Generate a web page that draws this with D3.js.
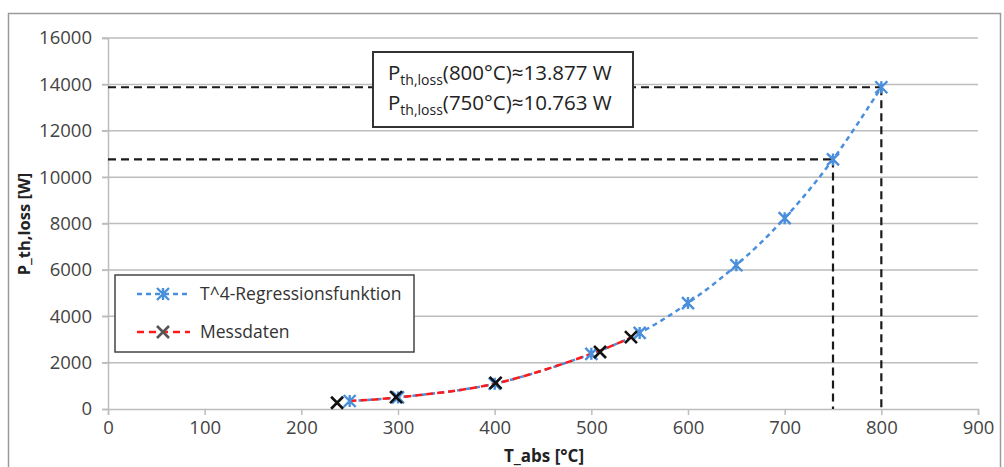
<!DOCTYPE html>
<html>
<head>
<meta charset="utf-8">
<script src="https://d3js.org/d3.v7.min.js"></script>
<style>
  body { margin: 0; background: #fff; }
  svg { font-family: "Open Sans", sans-serif; }
</style>
</head>
<body>
<svg id="chart" width="1004" height="467"></svg>
<script>
// T^4 regression (blue)
var regT = [250, 300, 400, 500, 550, 600, 650, 700, 750, 800];
var regP = [345, 500, 1090, 2380, 3280, 4570, 6200, 8230, 10763, 13877];
// measured data (black x)
var messT = [237, 298, 401, 509, 541];
var messP = [270, 510, 1130, 2460, 3100];
// red dashed line of the measured series
var messLineT = [250, 300, 400, 500, 541];
var messLineP = [345, 500, 1090, 2380, 3080];
// guides
var markT = [750, 800];
var markP = [10763, 13877];
var xTicks = [0, 100, 200, 300, 400, 500, 600, 700, 800, 900];
var yTicks = [0, 2000, 4000, 6000, 8000, 10000, 12000, 14000, 16000];
var legendLabels = ["T^4-Regressionsfunktion", "Messdaten"];

var svg = d3.select("#chart");
var x = d3.scaleLinear().domain([0, 900]).range([108, 978]);
var y = d3.scaleLinear().domain([0, 16000]).range([409, 38]);

// outer frame
svg.append("rect").attr("x", 8.5).attr("y", 13.5).attr("width", 992).attr("height", 460)
  .attr("fill", "none").attr("stroke", "#9a9a9a").attr("stroke-width", 1.5);

// gridlines
svg.append("g").selectAll("line").data(yTicks.slice(1)).enter().append("line")
  .attr("x1", x(0) - 6).attr("x2", x(900))
  .attr("y1", function(d) { return y(d); }).attr("y2", function(d) { return y(d); })
  .attr("stroke", "#bdbdbd").attr("stroke-width", 1.5);

// axes
var yAxis = svg.append("g").attr("transform", "translate(" + x(0) + ",0)")
  .call(d3.axisLeft(y).tickValues(yTicks).tickSize(6).tickPadding(10).tickFormat(d3.format("d")));
var xAxis = svg.append("g").attr("transform", "translate(0," + y(0) + ")")
  .call(d3.axisBottom(x).tickValues(xTicks).tickSize(6).tickPadding(6).tickFormat(d3.format("d")));
[xAxis, yAxis].forEach(function(a) {
  a.select(".domain").attr("stroke", "#bdbdbd").attr("stroke-width", 1.5);
  a.selectAll(".tick line").attr("stroke", "#bdbdbd").attr("stroke-width", 1.5);
  a.selectAll("text").attr("fill", "#444").style("font-size", "18.5px")
    .style("font-family", "'Open Sans', sans-serif");
});

// axis titles
svg.append("text").attr("x", 544).attr("y", 462).attr("text-anchor", "middle")
  .style("font-size", "17px").style("font-weight", "bold").attr("fill", "#222").text("T_abs [°C]");
svg.append("text").attr("transform", "translate(30,224) rotate(-90)").attr("text-anchor", "middle")
  .style("font-size", "16.5px").style("font-weight", "bold").attr("fill", "#222").text("P_th,loss [W]");

// guide lines
var guides = svg.append("g").attr("stroke", "#1a1a1a").attr("stroke-width", 2.2).attr("stroke-dasharray", "8,5");
markT.forEach(function(t, i) {
  guides.append("line").attr("x1", x(0)).attr("x2", x(t)).attr("y1", y(markP[i])).attr("y2", y(markP[i]));
  guides.append("line").attr("x1", x(t)).attr("x2", x(t)).attr("y1", y(markP[i])).attr("y2", y(0));
});

// curves
var line = d3.line().x(function(d) { return x(d[0]); }).y(function(d) { return y(d[1]); })
  .curve(d3.curveCatmullRom);
var regData = regT.map(function(t, i) { return [t, regP[i]]; });
var messLine = messLineT.map(function(t, i) { return [t, messLineP[i]]; });
var messData = messT.map(function(t, i) { return [t, messP[i]]; });
var blue = "#4a8fdc";

svg.append("path").datum(regData).attr("d", line).attr("fill", "none")
  .attr("stroke", blue).attr("stroke-width", 2.5).attr("stroke-dasharray", "5,4");
svg.append("path").datum(messLine).attr("d", line).attr("fill", "none")
  .attr("stroke", "#ff1a1a").attr("stroke-width", 2.5).attr("stroke-dasharray", "7,4");

function star(g, cx, cy, s, color) {
  var p = "M" + (cx - s) + "," + (cy - s) + "L" + (cx + s) + "," + (cy + s) +
    "M" + (cx - s) + "," + (cy + s) + "L" + (cx + s) + "," + (cy - s) +
    "M" + cx + "," + (cy - s) + "L" + cx + "," + (cy + s);
  g.append("path").attr("d", p).attr("stroke", color).attr("stroke-width", 2.4).attr("fill", "none");
}
function cross(g, cx, cy, s, color) {
  var p = "M" + (cx - s) + "," + (cy - s) + "L" + (cx + s) + "," + (cy + s) +
    "M" + (cx - s) + "," + (cy + s) + "L" + (cx + s) + "," + (cy - s);
  g.append("path").attr("d", p).attr("stroke", color).attr("stroke-width", 2.6).attr("fill", "none");
}
var marks = svg.append("g");
regData.forEach(function(d) { star(marks, x(d[0]), y(d[1]), 6, blue); });
messData.forEach(function(d) { cross(marks, x(d[0]), y(d[1]), 6, "#111"); });

// annotation box
var box = svg.append("g");
box.append("rect").attr("x", 373).attr("y", 52).attr("width", 260).attr("height", 75)
  .attr("fill", "#fff").attr("stroke", "#333").attr("stroke-width", 2);
var ann = [["800", "13.877"], ["750", "10.763"]];
ann.forEach(function(a, i) {
  var t = box.append("text").attr("x", 388).attr("y", 80 + i * 30).attr("fill", "#222")
    .style("font-size", "20.5px");
  t.append("tspan").text("P");
  t.append("tspan").attr("dy", 5).style("font-size", "14px").text("th,loss");
  t.append("tspan").attr("dy", -5).text("(" + a[0] + "°C)≈" + a[1] + " W");
});

// legend
var leg = svg.append("g");
leg.append("rect").attr("x", 115).attr("y", 275).attr("width", 299).attr("height", 77)
  .attr("fill", "#fff").attr("stroke", "#444").attr("stroke-width", 1.5);
legendLabels.forEach(function(lab, i) {
  var ly = 294 + i * 38;
  leg.append("line").attr("x1", 137).attr("x2", 190).attr("y1", ly).attr("y2", ly)
    .attr("stroke", i === 0 ? blue : "#ff1a1a").attr("stroke-width", 2.5)
    .attr("stroke-dasharray", i === 0 ? "5,4" : "7,5");
  if (i === 0) star(leg, 163, ly, 6, blue); else cross(leg, 163, ly, 6, "#555");
  leg.append("text").attr("x", 200).attr("y", ly + 6).attr("fill", "#333")
    .style("font-size", "17.5px").text(lab);
});
</script>
</body>
</html>
